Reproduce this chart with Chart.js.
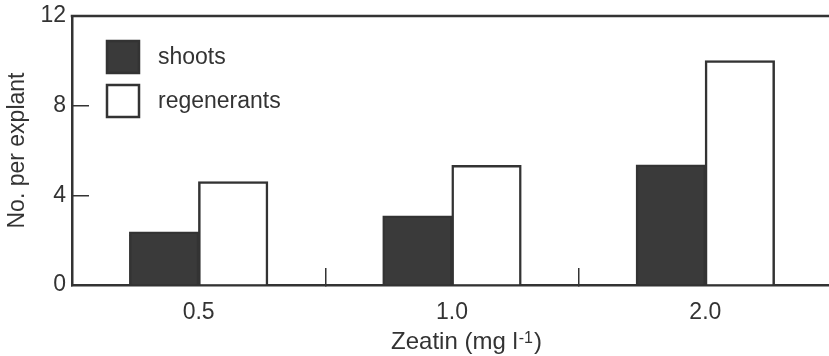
<!DOCTYPE html>
<html>
<head>
<meta charset="utf-8">
<script src="https://cdn.jsdelivr.net/npm/chart.js@4/dist/chart.umd.min.js"></script>
<style>
  html, body { margin: 0; padding: 0; background: #fff; overflow: hidden; }
  #wrap { width: 834px; height: 356px; }
</style>
</head>
<body>
<div id="wrap"><canvas id="zeatin"></canvas></div>
<script>
const concentrations = ["0.5", "1.0", "2.0"];
const shoots = [2.36, 3.07, 5.35];
const regenerants = [4.6, 5.33, 10.0];
const yTicks = [0, 4, 8, 12];
const xTitle = ["Zeatin (mg l", "-1", ")"];

const ink = '#333333';
const font = "'Liberation Sans', Arial, Helvetica, sans-serif";

// top frame line, legend inside the plot and x title with superscript
const figureBits = {
  id: 'figureBits',
  afterDatasetsDraw(chart) {
    const ctx = chart.ctx;
    const area = chart.chartArea;
    ctx.save();
    ctx.lineWidth = 2.5;
    ctx.strokeStyle = ink;
    ctx.beginPath();
    ctx.moveTo(area.left - 1.25, area.top);
    ctx.lineTo(chart.width, area.top);
    ctx.stroke();
    chart.data.datasets.forEach(function (ds, i) {
      const x = area.left + 35;
      const y = area.top + 25 + i * 44;
      ctx.fillStyle = ds.backgroundColor;
      ctx.fillRect(x, y, 32, 32);
      ctx.lineWidth = 2.5;
      ctx.strokeStyle = ink;
      ctx.strokeRect(x, y, 32, 32);
      ctx.fillStyle = ink;
      ctx.font = "23px " + font;
      ctx.textBaseline = 'middle';
      ctx.textAlign = 'left';
      ctx.fillText(ds.label, x + 51, y + 17);
    });

    // axis title: "Zeatin (mg l" + superscript "-1" + ")"
    const big = "24px " + font, small = "16px " + font;
    ctx.textBaseline = 'alphabetic';
    ctx.font = big;
    const w0 = ctx.measureText(xTitle[0]).width;
    const w2 = ctx.measureText(xTitle[2]).width;
    ctx.font = small;
    const w1 = ctx.measureText(xTitle[1]).width + 1;
    let tx = (area.left + area.right) / 2 + 14 - (w0 + w1 + w2) / 2;
    const base = area.bottom + 64;
    ctx.fillStyle = ink;
    ctx.font = big;
    ctx.fillText(xTitle[0], tx, base);
    tx += w0 + 1;
    ctx.font = small;
    ctx.fillText(xTitle[1], tx, base - 6);
    tx += w1;
    ctx.font = big;
    ctx.fillText(xTitle[2], tx, base);
    ctx.restore();
  }
};

const zeatinChart = new Chart(document.getElementById("zeatin"), {
  type: "bar",
  data: {
    labels: concentrations,
    datasets: [{
      label: "shoots",
      data: shoots,
      backgroundColor: '#3a3a3a',
      borderColor: ink,
      borderWidth: 2.5,
      inflateAmount: 0.6
    }, {
      label: "regenerants",
      data: regenerants,
      backgroundColor: '#ffffff',
      borderColor: ink,
      borderWidth: 2.5,
      inflateAmount: 0.6
    }]
  },
  options: {
    responsive: true,
    maintainAspectRatio: false,
    animation: false,
    layout: { padding: { top: 16, right: 2, left: 0, bottom: 0 } },
    datasets: {
      bar: { categoryPercentage: 0.545, barPercentage: 1.0 }
    },
    plugins: {
      legend: { display: false },
      tooltip: { enabled: false }
    },
    scales: {
      x: {
        position: 'bottom',
        grid: { offset: true, drawOnChartArea: false, drawTicks: true, tickLength: -17, color: ink, lineWidth: 1.5 },
        border: { display: true, color: ink, width: 2.5 },
        ticks: { color: ink, font: { family: font, size: 23 }, padding: 31 },
        title: { display: false },
        afterFit: function (scale) {
          scale.height = 71;
          scale.paddingLeft = 0;
          scale.paddingRight = 0;
        }
      },
      y: {
        min: 0,
        max: 12,
        afterBuildTicks: function (scale) { scale.ticks = yTicks.map(v => ({ value: v })); },
        grid: { drawOnChartArea: false, drawTicks: true, tickLength: -17, color: ink, lineWidth: 1.5 },
        border: { display: true, color: ink, width: 2.5 },
        ticks: { color: ink, font: { family: font, size: 23 }, padding: 23 },
        title: { display: true, text: "No. per explant", color: ink, font: { family: font, size: 23 }, padding: { top: 4, bottom: 0 } },
        afterFit: function (scale) {
          scale.width = 72;
          scale.paddingTop = 0;
          scale.paddingBottom = 0;
        }
      }
    }
  },
  plugins: [figureBits]
});
</script>
</body>
</html>
